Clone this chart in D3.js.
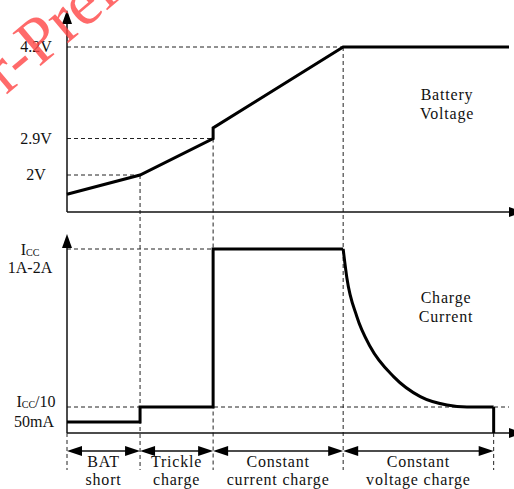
<!DOCTYPE html>
<html><head><meta charset="utf-8">
<script src="https://cdn.jsdelivr.net/npm/d3@7"></script>
<style>
html,body{margin:0;padding:0;background:#fff;}
svg{display:block;}
text{font-family:"Liberation Serif",serif;fill:#111;}
</style></head>
<body>
<svg id="c" width="514" height="489"></svg>
<script>
// ---- data ----
const phaseT = [0, 1, 2, 3.78, 5.84];               // phase boundaries (time units)
const phaseLabels = [["BAT","short"],["Trickle","charge"],["Constant","current charge"],["Constant","voltage charge"]];
const voltT = [0, 1, 2, 2, 3.78, 6.05];
const voltV = [1.74, 2.0, 2.9, 3.05, 4.2, 4.2];
const voltTicks = [2, 2.9, 4.2];
const voltTickLabels = ["2V", "2.9V", "4.2V"];
const currStepT = [0, 1, 1, 2, 2, 3.78];
const currStepI = [0.015, 0.015, 0.1, 0.1, 1, 1];
const cvT = [3.78, 3.831, 3.968, 4.151, 4.470, 4.836, 5.201, 5.475, 5.84];
const cvI = [1, 0.835, 0.614, 0.443, 0.273, 0.159, 0.111, 0.1, 0.1];
const dropT = [5.84, 5.84];
const dropI = [0.1, -0.048];

// ---- scales ----
const svg = d3.select("#c");
const x = d3.scaleLinear().domain([0, 6.05]).range([67, 509]);
const yV = d3.scaleLinear().domain([1.5, 2, 2.9, 4.2]).range([212, 175, 138.5, 47]);
const yI = d3.scaleLinear().domain([0.1, 1]).range([407, 249]);
const axV = yV(1.5), axI = yI(-0.048);
const rowY = 451, dashBottom = 470;

const dash = "4,3";
function dline(x1,y1,x2,y2){
  svg.append("line").attr("x1",x1).attr("y1",y1).attr("x2",x2).attr("y2",y2)
    .attr("stroke","#222").attr("stroke-width",1).attr("stroke-dasharray",dash);
}
// horizontal guides
voltTicks.forEach((v,i)=> dline(x(0), yV(v), x(phaseT[i+1]), yV(v)));
dline(x(0), yI(1), x(phaseT[3]), yI(1));
dline(x(0), yI(0.1), x(6.05), yI(0.1));
// vertical guides
dline(x(phaseT[1]), yV(2), x(phaseT[1]), dashBottom);
dline(x(phaseT[2]), yV(2.9), x(phaseT[2]), dashBottom);
dline(x(phaseT[3]), yV(4.2), x(phaseT[3]), dashBottom);
dline(x(phaseT[0]), axI, x(phaseT[0]), dashBottom);
dline(x(phaseT[4]), axI, x(phaseT[4]), dashBottom);

// axes
function axisLines(yBase, yTop){
  svg.append("line").attr("x1",x(0)).attr("y1",yBase).attr("x2",x(0)).attr("y2",yTop+12)
    .attr("stroke","#111").attr("stroke-width",1.5);
  svg.append("path").attr("d",`M${x(0)},${yTop}L${x(0)-5},${yTop+14}L${x(0)+5},${yTop+14}Z`).attr("fill","#000");
  svg.append("line").attr("x1",x(0)).attr("y1",yBase).attr("x2",512).attr("y2",yBase)
    .attr("stroke","#111").attr("stroke-width",1.5);
  svg.append("path").attr("d",`M509,${yBase-5}L523,${yBase}L509,${yBase+5}Z`).attr("fill","#000");
}
axisLines(axV, 10);
axisLines(axI, 234);

// voltage curve
const line = d3.line().x(d=>x(d[0])).y(d=>d[1]);
svg.append("path").datum(voltT.map((t,i)=>[t, yV(voltV[i])]))
  .attr("d", line).attr("fill","none").attr("stroke","#000").attr("stroke-width",3).attr("stroke-linejoin","miter");
// current
svg.append("path").datum(currStepT.map((t,i)=>[t, yI(currStepI[i])]))
  .attr("d", line).attr("fill","none").attr("stroke","#000").attr("stroke-width",3);
svg.append("path").datum(cvT.map((t,i)=>[t, yI(cvI[i])]))
  .attr("d", d3.line().x(d=>x(d[0])).y(d=>d[1]).curve(d3.curveMonotoneX)).attr("fill","none").attr("stroke","#000").attr("stroke-width",3);
svg.append("path").datum(dropT.map((t,i)=>[t, yI(dropI[i])]))
  .attr("d", line).attr("fill","none").attr("stroke","#000").attr("stroke-width",3);

// tick labels voltage
voltTicks.forEach((v,i)=>{
  svg.append("text").attr("x",36).attr("y",yV(v)+5).attr("text-anchor","middle")
    .attr("font-size",16).text(voltTickLabels[i]);
});
// current labels
function iccText(xc, yb, suffix){
  const t = svg.append("text").attr("x",xc).attr("y",yb).attr("text-anchor","middle").attr("font-size",16);
  t.append("tspan").text("I");
  t.append("tspan").attr("font-size",10).attr("dy",1).text("CC");
  if(suffix) t.append("tspan").attr("dy",-1).text(suffix);
}
iccText(30, yI(1)+6, null);
svg.append("text").attr("x",30).attr("y",yI(1)+24).attr("text-anchor","middle").attr("font-size",16).text("1A-2A");
iccText(36, yI(0.1)+0, "/10");
svg.append("text").attr("x",34).attr("y",yI(0.015)+5).attr("text-anchor","middle").attr("font-size",16).text("50mA");

// panel titles
[["Battery","Voltage",447,100],["Charge","Current",446,303]].forEach(d=>{
  svg.append("text").attr("x",d[2]).attr("y",d[3]).attr("text-anchor","middle").attr("font-size",16).attr("letter-spacing",0.8).text(d[0]);
  svg.append("text").attr("x",d[2]).attr("y",d[3]+19).attr("text-anchor","middle").attr("font-size",16).attr("letter-spacing",0.8).text(d[1]);
});

// phase arrows & labels
for(let i=0;i<4;i++){
  const a = x(phaseT[i]), b = x(phaseT[i+1]);
  svg.append("line").attr("x1",a+10).attr("x2",b-10).attr("y1",rowY).attr("y2",rowY).attr("stroke","#111").attr("stroke-width",1.5);
  svg.append("path").attr("d",`M${a},${rowY}L${a+15},${rowY-5}L${a+15},${rowY+5}Z`).attr("fill","#000");
  svg.append("path").attr("d",`M${b},${rowY}L${b-15},${rowY-5}L${b-15},${rowY+5}Z`).attr("fill","#000");
  const m=(a+b)/2;
  svg.append("text").attr("x",m).attr("y",467).attr("text-anchor","middle").attr("font-size",16).attr("letter-spacing",0.8).text(phaseLabels[i][0]);
  svg.append("text").attr("x",m).attr("y",485).attr("text-anchor","middle").attr("font-size",16).attr("letter-spacing",0.8).text(phaseLabels[i][1]);
}

// watermark
svg.append("text").attr("transform","translate(6,95) rotate(-40)")
  .attr("font-size",66).style("fill","rgb(255,70,70)").attr("opacity",0.8)
  .text("r-Preli");
</script>
</body></html>
